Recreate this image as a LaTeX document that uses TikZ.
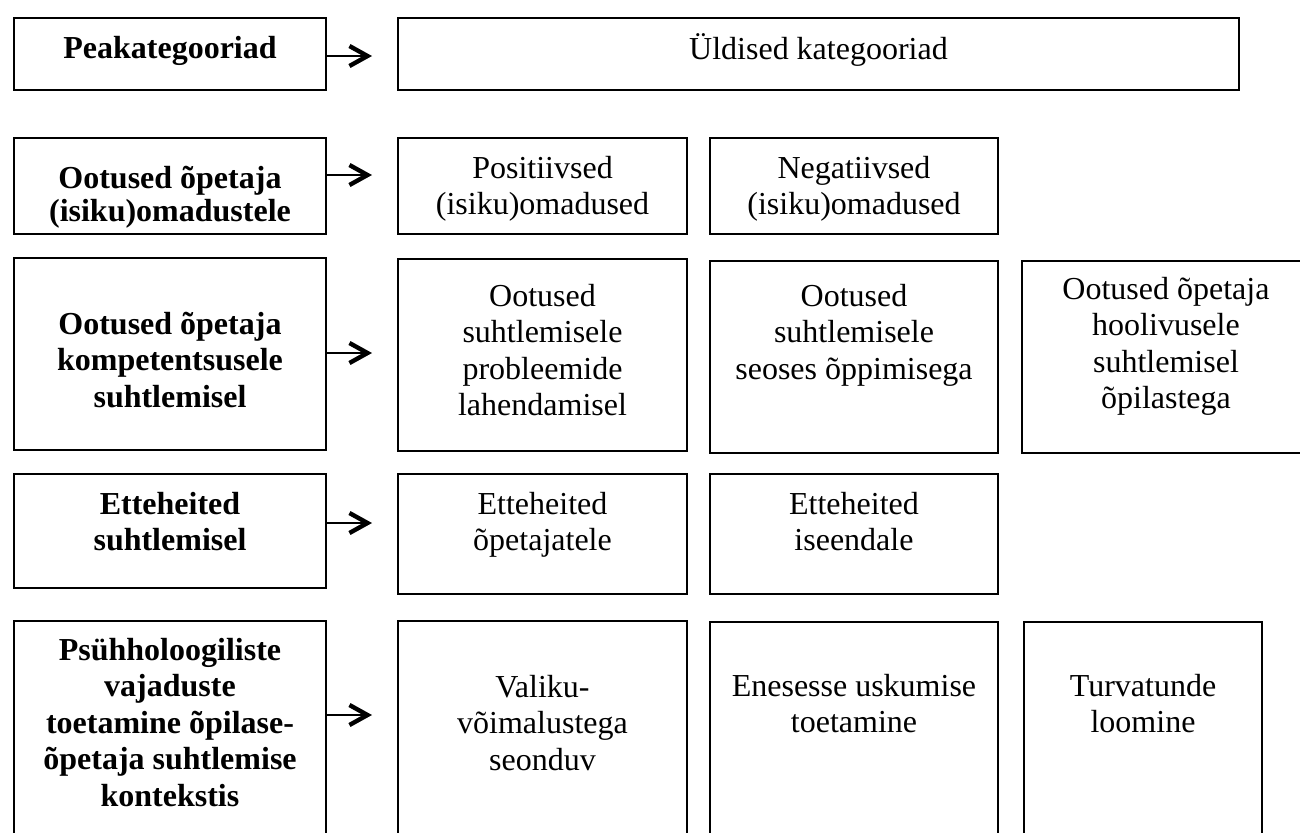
\documentclass[tikz,border=0pt]{standalone}
\usepackage{fontspec}
\setmainfont{Liberation Serif}
\usetikzlibrary{arrows.meta}

\newcommand{\celltxt}[4]{\parbox[c][#1][t]{#2}{\centering\vspace*{#3}\strut#4}}

\begin{document}
\begin{tikzpicture}[x=0.5pt,y=-0.5pt]
\tikzset{cell/.style={draw,line width=1pt,inner sep=0pt,anchor=north west,
                      font=\fontsize{16}{18.3}\selectfont},
         head/.style={cell,font=\fontsize{16}{18.3}\selectfont\bfseries},
         arr/.style={line width=1pt,-{Straight Barb[length=9pt,width=10pt,line width=2.2pt]}}}

\useasboundingbox (0,0) rectangle (1300,832);
\clip (0,0) rectangle (1300,832);

% arrow tips
\coordinate (t1) at (372,56);
\coordinate (t2) at (372,175);
\coordinate (t3) at (372,353);
\coordinate (t4) at (372,523);
\coordinate (t5) at (372,715);

% row 1
\node[head] (r1l) at (13,17)  {\celltxt{36pt}{156pt}{7.2pt}{Peakategooriad}};
\node[cell] (r1r) at (397,17) {\celltxt{36pt}{420.5pt}{7.6pt}{Üldised kategooriad}};

% row 2
\node[head,font=\fontsize{16}{14}\selectfont\bfseries] (r2l) at (13,137)
  {\celltxt{48pt}{156pt}{14.2pt}{Ootused õpetaja\\(isiku)omadustele}};
\node[cell] (r2a) at (397,137) {\celltxt{48pt}{144.5pt}{7.2pt}{Positiivsed\\(isiku)omadused}};
\node[cell] (r2b) at (709,137) {\celltxt{48pt}{144pt}{7.2pt}{Negatiivsed\\(isiku)omadused}};

% row 3
\node[head] (r3l) at (13,257)   {\celltxt{96pt}{156pt}{25.2pt}{Ootused õpetaja\\kompetentsusele\\suhtlemisel}};
\node[cell] (r3a) at (397,258)  {\celltxt{96pt}{144.5pt}{10.7pt}{Ootused\\suhtlemisele\\probleemide\\lahendamisel}};
\node[cell] (r3b) at (709,260)  {\celltxt{96pt}{144pt}{9.7pt}{Ootused\\suhtlemisele\\seoses õppimisega}};
\node[cell] (r3c) at (1021,260) {\celltxt{96pt}{144pt}{6.2pt}{Ootused õpetaja\\hoolivusele\\suhtlemisel\\õpilastega}};

% row 4
\node[head] (r4l) at (13,473)  {\celltxt{57pt}{156pt}{7.2pt}{Etteheited\\suhtlemisel}};
\node[cell] (r4a) at (397,473) {\celltxt{60pt}{144.5pt}{7.2pt}{Etteheited\\õpetajatele}};
\node[cell] (r4b) at (709,473) {\celltxt{60pt}{144pt}{7.2pt}{Etteheited\\iseendale}};

% row 5
\node[head] (r5l) at (13,620)   {\celltxt{120pt}{156pt}{6.7pt}{Psühholoogiliste\\vajaduste\\toetamine õpilase-\\õpetaja suhtlemise\\kontekstis}};
\node[cell] (r5a) at (397,620)  {\celltxt{120pt}{144.5pt}{25.2pt}{Valiku-\\võimalustega\\seonduv}};
\node[cell] (r5b) at (709,621)  {\celltxt{120pt}{144pt}{24.2pt}{Enesesse uskumise\\toetamine}};
\node[cell] (r5c) at (1023,621) {\celltxt{120pt}{119pt}{24.2pt}{Turvatunde\\loomine}};

\draw[arr] (r1l.east |- t1) -- (t1);
\draw[arr] (r2l.east |- t2) -- (t2);
\draw[arr] (r3l.east |- t3) -- (t3);
\draw[arr] (r4l.east |- t4) -- (t4);
\draw[arr] (r5l.east |- t5) -- (t5);

\end{tikzpicture}
\end{document}
